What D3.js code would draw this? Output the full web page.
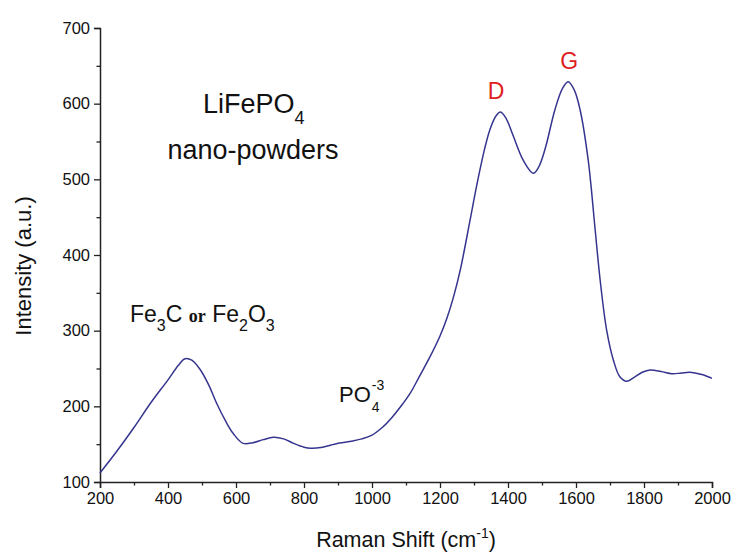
<!DOCTYPE html>
<html>
<head>
<meta charset="utf-8">
<script src="https://cdn.jsdelivr.net/npm/d3@7"></script>
<style>
  html, body { margin: 0; padding: 0; background: #fff; }
  svg { display: block; font-family: "Liberation Sans", Arial, sans-serif; }
</style>
</head>
<body>
<svg id="chart" width="732" height="554"></svg>
<script>
// Raman spectrum of LiFePO4 nano-powders
const ramanShift = [200,250,300,350,400,430,450,470,494,520,543,570,592,621,650,680,710,740,770,800,820,850,880,910,940,970,1000,1030,1060,1090,1112,1140,1170,1200,1220,1240,1260,1288,1308,1330,1347,1365,1378,1395,1415,1445,1474,1490,1509,1538,1560,1577,1595,1612,1636,1656,1671,1690,1710,1729,1749,1770,1795,1818,1850,1882,1910,1935,1970,2000];
const intensity  = [112,141,172,205,235,254,263,261,249,228,204,180,164,151,152,156,159,157,151,146,144.5,145.5,149,152,154,157,162,172,186,203,217,240,265,293,316,345,381,445,492,538,566,584,589,580,558,525,508,516,540,592,620,629,618,592,525,435,367,301,261,239,233,238,245,248,246,243,244,245,242,237];

const xTicks = [200,400,600,800,1000,1200,1400,1600,1800,2000];
const yTicks = [100,200,300,400,500,600,700];
const xMinor = d3.range(300, 2000, 200);
const yMinor = d3.range(150, 700, 100);

const svg = d3.select("#chart");
const x = d3.scaleLinear().domain([200, 2000]).range([100, 712]);
const y = d3.scaleLinear().domain([100, 700]).range([482, 28]);

const axisColor = "#222";

// x axis
const gx = svg.append("g").attr("transform", `translate(0,${y(100)})`);
gx.call(d3.axisBottom(x).tickValues(xTicks).tickSize(6).tickPadding(4).tickFormat(d3.format("d")));
gx.append("g").call(d3.axisBottom(x).tickValues(xMinor).tickSize(3.5).tickFormat(""))
  .select(".domain").remove();

// y axis
const gy = svg.append("g").attr("transform", `translate(${x(200)},0)`);
gy.call(d3.axisLeft(y).tickValues(yTicks).tickSize(6).tickPadding(4).tickFormat(d3.format("d")));
gy.append("g").call(d3.axisLeft(y).tickValues(yMinor).tickSize(3.5).tickFormat(""))
  .select(".domain").remove();

svg.selectAll(".domain").attr("stroke", axisColor).attr("stroke-width", 1.5);
svg.selectAll(".tick line").attr("stroke", axisColor).attr("stroke-width", 1.3);
svg.selectAll(".tick text").attr("fill", "#111").style("font-size", "16.5px")
   .style("font-family", "'Liberation Sans', Arial, sans-serif");

// spectrum
const line = d3.line()
  .x((d, i) => x(ramanShift[i]))
  .y(d => y(d))
  .curve(d3.curveCatmullRom.alpha(0.5));

svg.append("path")
  .datum(intensity)
  .attr("d", line)
  .attr("fill", "none")
  .attr("stroke", "#35358f")
  .attr("stroke-width", 1.5);

// axis titles
const xt = svg.append("text")
  .attr("x", 406).attr("y", 547)
  .attr("text-anchor", "middle")
  .style("font-size", "21.5px").attr("fill", "#111");
xt.append("tspan").text("Raman Shift (cm");
xt.append("tspan").attr("dy", -9).style("font-size", "14px").text("-1");
xt.append("tspan").attr("dy", 9).text(")");

svg.append("text")
  .attr("transform", "translate(31,266) rotate(-90)")
  .attr("text-anchor", "middle")
  .style("font-size", "22px").attr("fill", "#111")
  .text("Intensity (a.u.)");

// sample annotation
const t1 = svg.append("text").attr("x", 203).attr("y", 113)
  .style("font-size", "27px").attr("fill", "#111");
t1.append("tspan").text("LiFePO");
t1.append("tspan").attr("dy", 11).style("font-size", "18px").text("4");

svg.append("text").attr("x", 253).attr("y", 159)
  .attr("text-anchor", "middle")
  .style("font-size", "27px").attr("fill", "#111")
  .text("nano-powders");

// band assignments
const t2 = svg.append("text").attr("x", 130).attr("y", 322)
  .style("font-size", "23px").attr("fill", "#111");
t2.append("tspan").text("Fe");
t2.append("tspan").attr("dy", 9).style("font-size", "16px").text("3");
t2.append("tspan").attr("dy", -9).text("C ");
t2.append("tspan").style("font-family", "'Liberation Serif', 'Times New Roman', serif")
  .style("font-size", "18px").style("font-weight", "bold").text("or");
t2.append("tspan").text(" Fe");
t2.append("tspan").attr("dy", 9).style("font-size", "16px").text("2");
t2.append("tspan").attr("dy", -9).text("O");
t2.append("tspan").attr("dy", 9).style("font-size", "16px").text("3");

const t3 = svg.append("text").attr("x", 339).attr("y", 402)
  .style("font-size", "22px").attr("fill", "#111");
t3.append("tspan").text("PO");
const po = t3.node().getComputedTextLength();
svg.append("text").attr("x", 339 + po + 1).attr("y", 390)
  .style("font-size", "14px").attr("fill", "#111").text("-3");
svg.append("text").attr("x", 339 + po + 1).attr("y", 412)
  .style("font-size", "14px").attr("fill", "#111").text("4");

svg.append("text").attr("x", x(1365)).attr("y", 99)
  .attr("text-anchor", "middle")
  .style("font-size", "23px").attr("fill", "#e02020").text("D");
svg.append("text").attr("x", x(1580)).attr("y", 69)
  .attr("text-anchor", "middle")
  .style("font-size", "23px").attr("fill", "#e02020").text("G");
</script>
</body>
</html>
